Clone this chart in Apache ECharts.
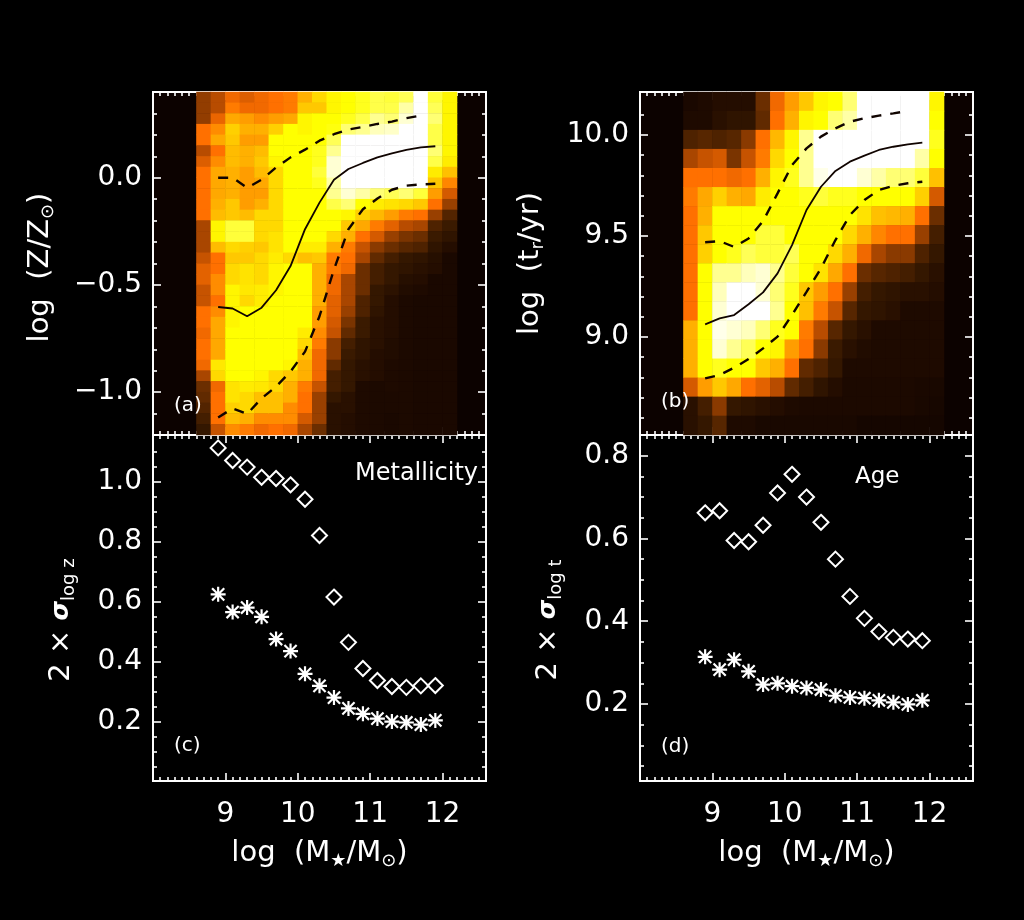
<!DOCTYPE html>
<html><head><meta charset="utf-8">
<style>html,body{margin:0;padding:0;background:#000}#c{width:1024px;height:920px;filter:blur(0.65px)}</style>
<script src="https://cdn.jsdelivr.net/npm/echarts@6/dist/echarts.min.js"></script>
</head><body><div id="c"></div>
<script>
// ---- mass points shared by every overlay
const massBins=[8.9,9.1,9.3,9.5,9.7,9.9,10.1,10.3,10.5,10.7,10.9,11.1,11.3,11.5,11.7,11.9];
// ---- panel (a) heat columns, top row first, one list per mass bin from 8.6 to 12.2
const zCol0=[35,35,35,50,50,40,45,50,50,50,50,50,38,38,38,42,46,46,42,42,50,50,48,50,50,48,38,30,28,25,22,18];
const zCol1=[40,40,47,55,60,50,55,60,60,60,62,65,78,78,65,50,50,55,55,50,55,60,60,60,60,75,72,48,50,50,50,42];
const zCol2=[48,52,60,70,68,65,65,62,62,62,68,68,84,84,72,68,72,72,78,78,78,78,80,80,80,80,80,74,74,70,65,55];
const zCol3=[45,48,58,62,58,62,62,58,58,58,58,65,84,84,70,68,74,74,75,72,80,80,80,80,80,80,80,76,72,72,62,52];
const zCol4=[48,48,55,62,58,65,68,65,60,58,62,72,72,72,68,72,72,72,76,76,80,80,80,80,80,80,78,75,66,66,55,48];
const zCol5=[50,50,58,70,80,80,78,72,72,72,72,72,72,74,74,76,78,78,78,80,80,80,80,80,80,80,72,72,66,66,55,50];
const zCol6=[52,52,60,80,80,80,80,80,80,80,80,80,80,80,80,72,80,80,80,80,80,80,80,80,80,78,68,62,62,55,55,48];
const zCol7=[62,68,78,78,80,80,80,80,80,80,80,80,80,80,76,66,80,80,80,80,80,80,76,72,66,62,62,52,50,50,44,38];
const zCol8=[72,68,80,80,80,82,82,84,82,80,80,80,80,80,76,68,62,62,62,62,58,58,55,52,48,48,48,42,36,36,36,30];
const zCol9=[78,78,80,81,86,90,96,96,92,90,85,80,80,72,62,52,52,48,48,46,46,44,42,34,34,28,22,22,18,14,14,14];
const zCol10=[80,80,82,88,100,100,100,100,100,96,88,78,68,62,52,50,48,38,38,38,36,32,28,22,20,18,18,18,14,14,12,12];
const zCol11=[82,82,85,90,100,100,100,100,100,92,80,70,60,50,42,38,30,30,30,24,24,20,20,16,16,14,14,10,10,10,10,10];
const zCol12=[85,85,90,94,100,100,100,100,100,88,76,64,52,44,34,28,22,22,18,18,16,14,14,14,12,12,12,9,9,9,9,9];
const zCol13=[84,85,88,95,100,100,100,100,100,86,74,58,46,36,30,22,18,18,15,12,12,12,12,11,11,10,10,10,9,9,8,8];
const zCol14=[86,92,96,100,100,100,100,100,100,88,72,52,40,32,26,18,16,13,11,9,9,9,9,9,9,9,9,9,9,9,9,9];
const zCol15=[100,100,100,100,100,100,100,100,100,84,68,50,38,30,24,16,14,12,10,8,8,8,8,8,8,8,8,8,8,8,8,8];
const zCol16=[84,86,88,85,85,88,85,76,68,58,50,36,24,20,16,13,12,8,8,8,8,8,8,8,8,8,8,8,8,8,8,8];
const zCol17=[78,78,78,78,78,78,76,66,54,44,36,25,20,16,12,8,8,8,8,8,8,8,8,8,8,8,8,8,8,8,8,8];
const zColumns=[zCol0,zCol1,zCol2,zCol3,zCol4,zCol5,zCol6,zCol7,zCol8,zCol9,zCol10,zCol11,zCol12,zCol13,zCol14,zCol15,zCol16,zCol17];
// ---- panel (b) heat rows, top row first
const tRow0=[8,10,12,12,12,30,48,58,68,78,80,88,100,100,100,100,100,78];
const tRow1=[10,10,14,16,16,28,50,62,78,80,88,92,100,100,100,100,100,80];
const tRow2=[24,26,24,26,34,50,64,78,90,100,100,100,100,100,100,100,100,82];
const tRow3=[38,42,44,32,42,52,72,80,90,100,100,100,100,100,100,100,92,80];
const tRow4=[50,50,50,48,50,62,78,82,90,98,100,100,96,92,88,88,84,66];
const tRow5=[52,60,70,62,60,76,80,80,82,84,82,82,80,80,80,80,70,44];
const tRow6=[50,62,80,80,80,80,80,80,80,80,80,80,74,66,64,62,50,30];
const tRow7=[50,68,80,80,80,84,84,80,80,80,80,72,62,54,50,50,36,22];
const tRow8=[50,70,80,82,86,84,84,86,80,80,72,62,48,38,34,34,24,18];
const tRow9=[50,80,90,90,94,96,90,84,80,74,60,50,30,26,24,22,18,14];
const tRow10=[50,80,94,100,100,96,88,82,68,58,50,36,22,18,16,14,14,12];
const tRow11=[50,80,96,100,100,100,90,80,66,52,42,26,18,16,14,10,10,10];
const tRow12=[62,80,98,96,94,88,82,80,52,40,26,18,14,10,10,10,10,10];
const tRow13=[62,80,96,90,86,80,78,58,50,34,20,14,11,10,10,10,10,10];
const tRow14=[62,80,82,80,80,68,62,50,28,24,18,10,10,10,10,10,10,10];
const tRow15=[44,58,68,60,50,46,40,28,22,16,12,9,9,9,9,9,8,7];
const tRow16=[14,22,34,18,16,14,12,10,9,9,9,9,9,9,9,9,7,6];
const tRow17=[14,18,26,10,10,7,7,7,7,7,7,7,5,5,5,5,5,5];
const tRows=[tRow0,tRow1,tRow2,tRow3,tRow4,tRow5,tRow6,tRow7,tRow8,tRow9,tRow10,tRow11,tRow12,tRow13,tRow14,tRow15,tRow16,tRow17];
// ---- percentile curves
const zMedian=[-0.603,-0.61,-0.646,-0.606,-0.525,-0.412,-0.24,-0.116,-0.009,0.041,0.069,0.095,0.114,0.13,0.142,0.147];
const zUpper=[0,0,-0.047,-0.009,0.048,0.095,0.131,0.173,0.203,0.225,0.237,0.251,0.262,0.278,0.29];
const zLower=[-1.118,-1.076,-1.102,-1.029,-0.974,-0.904,-0.811,-0.646,-0.428,-0.24,-0.147,-0.097,-0.056,-0.037,-0.031,-0.028];
const tMedian=[9.063,9.092,9.109,9.162,9.221,9.315,9.455,9.629,9.744,9.822,9.868,9.898,9.926,9.942,9.954,9.962];
const tUpper=[9.469,9.475,9.446,9.488,9.574,9.711,9.851,9.934,9.992,10.033,10.066,10.083,10.096,10.107,10.119];
const tLower=[8.795,8.812,8.848,8.891,8.944,9.002,9.109,9.224,9.34,9.48,9.604,9.678,9.728,9.749,9.761,9.769];
// ---- scatter panels
const zDiamond=[1.114,1.072,1.05,1.016,1.012,0.991,0.943,0.822,0.617,0.466,0.379,0.339,0.319,0.316,0.321,0.322];
const zStar=[0.626,0.567,0.582,0.551,0.477,0.437,0.361,0.321,0.282,0.246,0.228,0.212,0.202,0.199,0.192,0.206];
const tDiamond=[0.662,0.667,0.595,0.592,0.632,0.71,0.755,0.70,0.639,0.55,0.46,0.407,0.375,0.361,0.357,0.353];
const tStar=[0.314,0.283,0.307,0.279,0.247,0.25,0.243,0.239,0.235,0.22,0.216,0.214,0.209,0.204,0.199,0.209];
// ---- tick labels and tick positions
const xMajor=[9,10,11,12];
const xMinor=[8.1,8.2,8.3,8.4,8.5,8.6,8.7,8.8,8.9,9.1,9.2,9.3,9.4,9.5,9.6,9.7,9.8,9.9,10.1,10.2,10.3,10.4,10.5,10.6,10.7,10.8,10.9,11.1,11.2,11.3,11.4,11.5,11.6,11.7,11.8,11.9,12.1,12.2,12.3,12.4,12.5];
const yMajorA=[-1,-0.5,0];
const yMinorA=[-1.1,-0.9,-0.8,-0.7,-0.6,-0.4,-0.3,-0.2,-0.1,0.1,0.2,0.3];
const yMajorB=[9,9.5,10];
const yMinorB=[8.6,8.7,8.8,8.9,9.1,9.2,9.3,9.4,9.6,9.7,9.8,9.9,10.1];
const yMajorC=[0.2,0.4,0.6,0.8,1.0];
const yMinorC=[0.05,0.1,0.15,0.25,0.3,0.35,0.45,0.5,0.55,0.65,0.7,0.75,0.85,0.9,0.95,1.05,1.1];
const yMajorD=[0.2,0.4,0.6,0.8];
const yMinorD=[0.05,0.1,0.15,0.25,0.3,0.35,0.45,0.5,0.55,0.65,0.7,0.75];
const ramp=['#0c0200','#1e0a00','#3a1a00','#6b2e00','#b84c00','#ff7000','#ffa800','#ffd000','#ffff00','#ffff90','#ffffff'];
const FONT='"DejaVu Sans"', INK='#ffffff', FS=28, NS=29, FW='normal';
const STAR='path://M0 -8L0 8M-8 0L8 0M-6.5 -6.5L6.5 6.5M-6.5 6.5L6.5 -6.5';

const grids=[],xAxes=[],yAxes=[],series=[],vmSeries=[];
function richName(){return {color:INK,fontFamily:FONT,fontSize:NS,fontWeight:FW,rich:{
  n:{color:INK,fontFamily:FONT,fontSize:NS,fontWeight:FW,lineHeight:34},
  s:{color:INK,fontFamily:FONT,fontSize:18,fontWeight:FW,lineHeight:34,verticalAlign:'bottom',padding:[14,0,0,0]},
  g:{color:INK,fontFamily:FONT,fontSize:25,fontWeight:'bold',fontStyle:'italic',lineHeight:34}
}};}
function addPanel(g,bg,x0,x1,y0,y1,xLabels,yMaj,yMin,yFmt,yName,yGap,yShift,xName,xCats,yCats){
  const gi=grids.length; grids.push({left:g[0],top:g[1],width:g[2],height:g[3],backgroundColor:bg,show:true,borderWidth:0,z:0});
  const line={show:true,onZero:false,lineStyle:{color:INK,width:1.8}};
  const mk=(pos,vals,len,extra,lo,hi)=>Object.assign({type:'value',gridIndex:gi,position:pos,min:lo,max:hi,splitLine:{show:false},
     axisLine:line,axisTick:{show:true,inside:true,length:len,customValues:vals,lineStyle:{color:INK,width:1.6}},
     axisLabel:{show:false}},extra||{});
  const xi=xAxes.length, yi=yAxes.length;
  xAxes.push(mk('bottom',xMajor,8,xLabels?{axisLabel:{show:true,customValues:xMajor,color:INK,fontFamily:FONT,fontWeight:FW,fontSize:FS,margin:20,formatter:v=>String(v)},
     name:xName,nameLocation:'middle',nameGap:55,nameMoveOverlap:false,nameTextStyle:richName()}:{},x0,x1));
  xAxes.push(mk('bottom',xMinor,4,null,x0,x1),mk('top',xMajor,8,null,x0,x1),mk('top',xMinor,4,null,x0,x1));
  yAxes.push(mk('left',yMaj,8,{axisLabel:{show:true,customValues:yMaj,color:INK,fontFamily:FONT,fontWeight:FW,fontSize:FS,margin:11,padding:[4,0,0,0],formatter:yFmt},
     name:yName,nameLocation:'middle',nameRotate:90,nameGap:yGap,nameMoveOverlap:false,nameTextStyle:Object.assign(richName(),{padding:[0,yShift,0,0]})},y0,y1));
  yAxes.push(mk('left',yMin,4,null,y0,y1),mk('right',yMaj,8,null,y0,y1),mk('right',yMin,4,null,y0,y1));
  const out={x:xi,y:yi,gi};
  if(xCats){
    out.cx=xAxes.length; out.cy=yAxes.length;
    const hide={show:false};
    xAxes.push({type:'category',gridIndex:gi,data:xCats,axisLine:hide,axisTick:hide,axisLabel:hide,splitLine:hide,boundaryGap:true});
    yAxes.push({type:'category',gridIndex:gi,data:yCats,axisLine:hide,axisTick:hide,axisLabel:hide,splitLine:hide,boundaryGap:true});
  }
  return out;
}
const fmt1=v=>v<0?'\u2212'+Math.abs(v).toFixed(1):v.toFixed(1);
const massName='{n|log\u00a0\u00a0(M}{s|\u2605}{n|/M}{s|\u2299}{n|)}';
const xCats=Array.from({length:23},(_,i)=>(8+0.2*i).toFixed(1));
const yCatsA=Array.from({length:32},(_,i)=>(-1.2+0.05*i).toFixed(2));
const yCatsB=Array.from({length:18},(_,i)=>String(i));

const L=153,R=640,W=333,DARK='#0c0200',BLK='#000';
const pa=addPanel([L,92,W,343],DARK,8,12.6,-1.2,0.4,false,yMajorA,yMinorA,fmt1,'{n|log\u00a0\u00a0(Z/Z}{s|\u2299}{n|)}',96,8,null,xCats,yCatsA);
const pb=addPanel([R,92,W,343],DARK,8,12.6,8.515,10.213,false,yMajorB,yMinorB,fmt1,'{n|log\u00a0\u00a0(t}{s|r}{n|/yr)}',93,0,null,xCats,yCatsB);
const pc=addPanel([L,435,W,346],BLK,8,12.6,0.004,1.157,true,yMajorC,yMinorC,fmt1,'{n|2 \u00d7 }{g|\u03c3}{s|log z}',75,24,massName);
const pd=addPanel([R,435,W,346],BLK,8,12.6,0.014,0.85,true,yMajorD,yMinorD,fmt1,'{n|2 \u00d7 }{g|\u03c3}{s|log t}',75,24,massName);

const heatA=[];zColumns.forEach((col,c)=>col.forEach((v,r)=>heatA.push([c+3,31-r,v])));
const heatB=[];tRows.forEach((row,r)=>row.forEach((v,c)=>heatB.push([c+3,17-r,v])));
function heat(p,d){vmSeries.push(series.length);series.push({type:'heatmap',xAxisIndex:p.cx,yAxisIndex:p.cy,data:d,progressive:0,silent:true,z:1,itemStyle:{borderWidth:0}});}
function curve(p,vals,dash,w){series.push({type:'line',xAxisIndex:p.x,yAxisIndex:p.y,z:3,silent:true,symbol:'none',
  data:vals.map((v,i)=>[massBins[i],v]),lineStyle:{color:'#100400',width:w,type:dash}});}
function pts(p,vals,sym,size,bw){series.push({type:'scatter',xAxisIndex:p.x,yAxisIndex:p.y,z:3,silent:true,symbol:sym,symbolSize:size,
  data:vals.map((v,i)=>[massBins[i],v]),itemStyle:{color:'rgba(0,0,0,0)',borderColor:'#ffffff',borderWidth:bw,opacity:1}});}
heat(pa,heatA);heat(pb,heatB);
curve(pa,zMedian,'solid',1.8);curve(pa,zUpper,[10,9],2.4);curve(pa,zLower,[10,9],2.4);
curve(pb,tMedian,'solid',1.8);curve(pb,tUpper,[10,9],2.4);curve(pb,tLower,[10,9],2.4);
pts(pc,zDiamond,'diamond',15,2);pts(pc,zStar,STAR,15,2.2);
pts(pd,tDiamond,'diamond',15,2);pts(pd,tStar,STAR,15,2.2);

const txt=(x,y,s,size)=>({type:'text',left:x,top:y,z:10,silent:true,style:{text:s,fill:INK,font:(size||FS)+'px '+FONT}});
const chart=echarts.init(document.getElementById('c'),null,{renderer:'canvas',width:1024,height:920});
chart.setOption({animation:false,backgroundColor:'#000',grid:grids,xAxis:xAxes,yAxis:yAxes,series,
  visualMap:{show:false,type:'continuous',min:0,max:100,seriesIndex:vmSeries,dimension:2,inRange:{color:ramp}},
  tooltip:{show:false},
  graphic:[txt(174,396,'(a)',20),txt(661,392,'(b)',20),txt(174,736,'(c)',20),txt(661,737,'(d)',20),
           txt(355,462,'Metallicity',24),txt(855,466,'Age',23)]});
</script></body></html>
